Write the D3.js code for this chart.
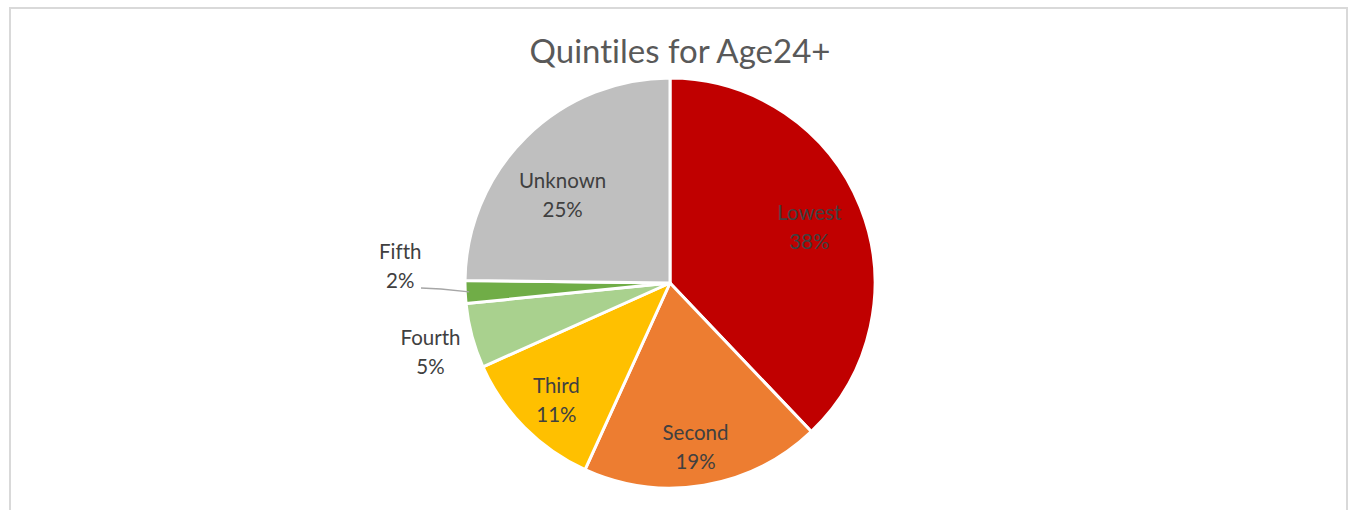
<!DOCTYPE html>
<html>
<head>
<meta charset="utf-8">
<title>Quintiles for Age24+</title>
<script src="https://cdn.jsdelivr.net/npm/d3@7"></script>
<style>
  body { margin: 0; background: #fff; }
  text { font-family: Lato, "Liberation Sans", sans-serif; font-variant-ligatures: none; }
</style>
</head>
<body>
<script>
// data
var categories = ['Lowest', 'Second', 'Third', 'Fourth', 'Fifth', 'Unknown'];
var shares = [37.9, 18.9, 11.5, 5.1, 1.8, 24.8];
var pctLabels = ['38%', '19%', '11%', '5%', '2%', '25%'];
var colors = ['#C00000', '#ED7D31', '#FFC000', '#A9D18E', '#70AD47', '#BFBFBF'];

var width = 1353, height = 510;
var cx = 670, cy = 283, R = 205;
// label distance from centre, per slice (inside for big slices, outside for small)
var labelR = [150, 166, 163, 250, 268, 140];
// small hand nudges so labels sit where the original best-fit put them
var labelNudge = [[0, 0], [-2, 0], [2, 2], [2, 5], [-2, -29], [-9, 12]];

var svg = d3.select('body').append('svg')
  .attr('width', width)
  .attr('height', height);

// chart frame
svg.append('rect')
  .attr('x', 10).attr('y', 8)
  .attr('width', 1337).attr('height', 540)
  .attr('fill', '#fff')
  .attr('stroke', '#d9d9d9')
  .attr('stroke-width', 2);

svg.append('text')
  .attr('x', 680).attr('y', 63)
  .attr('text-anchor', 'middle')
  .attr('font-size', 33)
  .attr('fill', '#595959')
  .text('Quintiles for Age24+');

var pie = d3.pie().sort(null).value(function(d) { return d; });
var arcs = pie(shares);
var arc = d3.arc().innerRadius(0).outerRadius(R);

var g = svg.append('g').attr('transform', 'translate(' + cx + ',' + cy + ')');

g.selectAll('path')
  .data(arcs)
  .enter()
  .append('path')
  .attr('d', arc)
  .attr('fill', function(d, i) { return colors[i]; })
  .attr('stroke', '#fff')
  .attr('stroke-width', 3)
  .attr('stroke-linejoin', 'round');

function labelPos(d, i) {
  var a = (d.startAngle + d.endAngle) / 2;
  var r = labelR[i];
  return [r * Math.sin(a) + labelNudge[i][0], -r * Math.cos(a) + labelNudge[i][1]];
}

// leader line for the thin Fifth slice
var fifth = arcs[4];
var fa = (fifth.startAngle + fifth.endAngle) / 2;
g.append('path')
  .attr('d', 'M' + (-249) + ',' + 5 + 'L' + (-229) + ',' + 6 + 'L' + ((R - 4) * Math.sin(fa)) + ',' + (-(R - 4) * Math.cos(fa)))
  .attr('fill', 'none')
  .attr('stroke', '#a6a6a6')
  .attr('stroke-width', 1.3);

var labels = g.selectAll('g.lbl')
  .data(arcs)
  .enter()
  .append('g')
  .attr('class', 'lbl')
  .attr('transform', function(d, i) { return 'translate(' + labelPos(d, i) + ')'; });

labels.append('text')
  .attr('text-anchor', 'middle')
  .attr('y', -7)
  .attr('font-size', 20.5)
  .attr('fill', '#404040')
  .text(function(d, i) { return categories[i]; });

labels.append('text')
  .attr('text-anchor', 'middle')
  .attr('y', 22)
  .attr('font-size', 20.5)
  .attr('fill', '#404040')
  .text(function(d, i) { return pctLabels[i]; });
</script>
</body>
</html>
